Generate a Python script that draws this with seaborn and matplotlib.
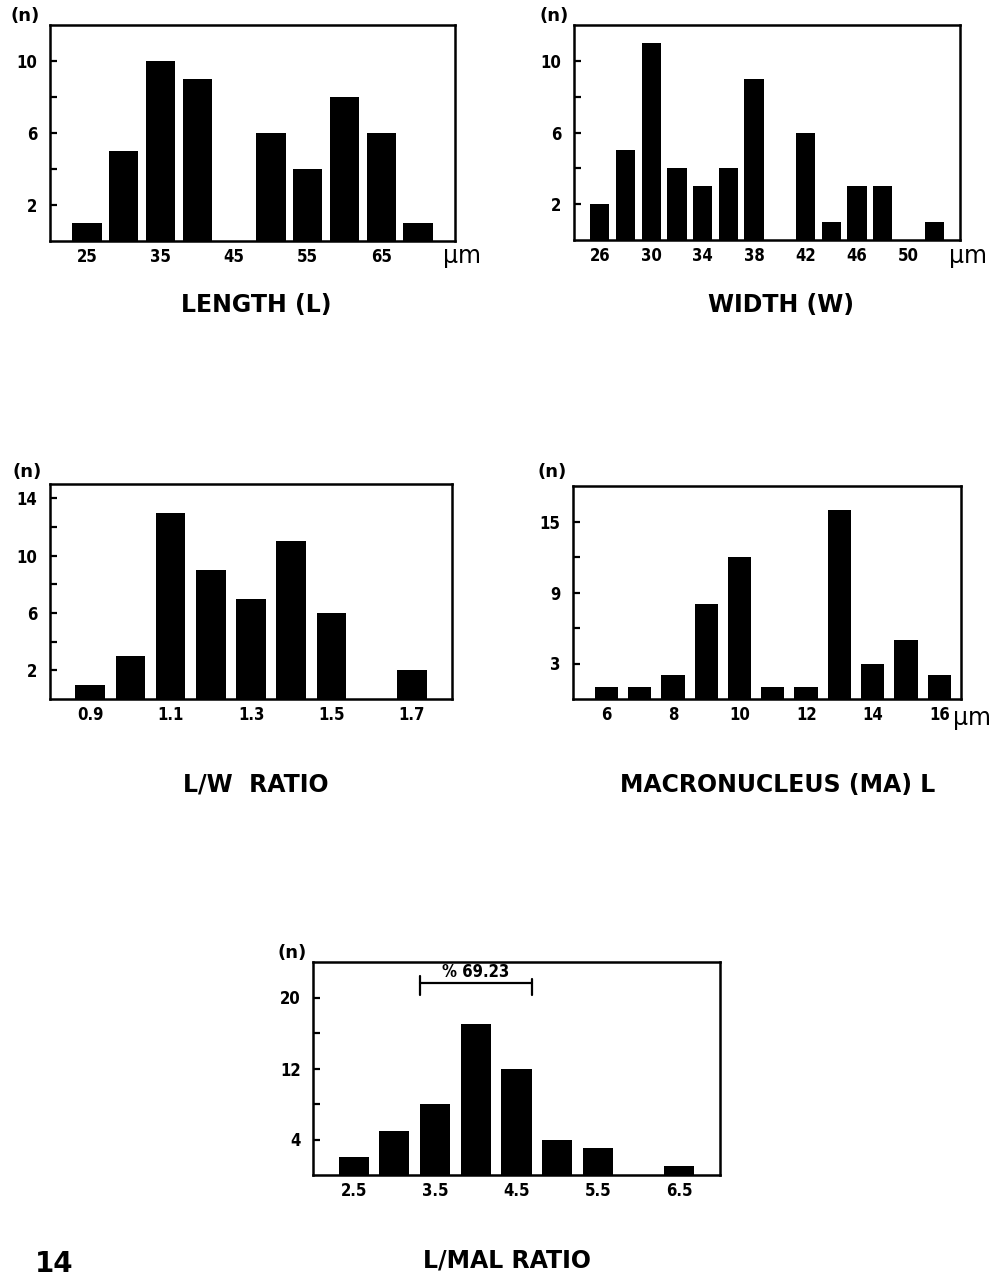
import numpy as np
import pandas as pd
import matplotlib
matplotlib.use("Agg")
import matplotlib.pyplot as plt
import seaborn as sns

# ---------------- data ----------------
length_bins = [25, 30, 35, 40, 45, 50, 55, 60, 65, 70]
length_counts = [1, 5, 10, 9, 0, 6, 4, 8, 6, 1]
length_xticks = [25, 35, 45, 55, 65]
length_yticks = [2, 6, 10]

width_bins = [26, 28, 30, 32, 34, 36, 38, 40, 42, 44, 46, 48, 50, 52]
width_counts = [2, 5, 11, 4, 3, 4, 9, 0, 6, 1, 3, 3, 0, 1]
width_xticks = [26, 30, 34, 38, 42, 46, 50]
width_yticks = [2, 6, 10]

lw_bins = [0.9, 1.0, 1.1, 1.2, 1.3, 1.4, 1.5, 1.6, 1.7]
lw_counts = [1, 3, 13, 9, 7, 11, 6, 0, 2]
lw_xticks = [0.9, 1.1, 1.3, 1.5, 1.7]
lw_yticks = [2, 6, 10, 14]

ma_bins = [6, 7, 8, 9, 10, 11, 12, 13, 14, 15, 16]
ma_counts = [1, 1, 2, 8, 12, 1, 1, 16, 3, 5, 2]
ma_xticks = [6, 8, 10, 12, 14, 16]
ma_yticks = [3, 9, 15]

lmal_bins = [2.5, 3.0, 3.5, 4.0, 4.5, 5.0, 5.5, 6.0, 6.5]
lmal_counts = [2, 5, 8, 17, 12, 4, 3, 0, 1]
lmal_xticks = [2.5, 3.5, 4.5, 5.5, 6.5]
lmal_yticks = [4, 12, 20]
lmal_bracket_bins = [3.5, 4.5]
lmal_bracket_label = "% 69.23"

titles = ["LENGTH (L)", "WIDTH (W)", "L/W  RATIO", "MACRONUCLEUS (MA) L", "L/MAL RATIO"]
figure_number = "14"

# ---------------- style ----------------
sns.set_theme(style="white")
plt.rcParams["font.family"] = ["DejaVu Sans"]
TICK_FAMILY = ["DejaVu Sans"]
TICK_STRETCH = "condensed"
TICK_SIZE = 12

W, H = 996, 1278
fig = plt.figure(figsize=(W / 100, H / 100), dpi=100)
fig.patch.set_facecolor("white")


def px_axes(left, top, right, bottom):
    return fig.add_axes([left / W, 1 - bottom / H, (right - left) / W, (bottom - top) / H])


def ftext(x, y, s, **kw):
    fig.text(x / W, 1 - y / H, s, ha="center", va="center", **kw)


def fmt(v):
    return f"{v:g}"


panels = [
    dict(box=(50, 25, 455, 241), bins=length_bins, counts=length_counts, width=0.8,
         xlim=(20, 75), ylim=(0, 12), xt=length_xticks, yt=length_yticks),
    dict(box=(574, 25, 960, 240), bins=width_bins, counts=width_counts, width=0.75,
         xlim=(24, 54), ylim=(0, 12), xt=width_xticks, yt=width_yticks),
    dict(box=(50, 484, 452, 699), bins=lw_bins, counts=lw_counts, width=0.74,
         xlim=(0.8, 1.8), ylim=(0, 15), xt=lw_xticks, yt=lw_yticks),
    dict(box=(573, 486, 961, 699), bins=ma_bins, counts=ma_counts, width=0.7,
         xlim=(5.0, 16.65), ylim=(0, 18), xt=ma_xticks, yt=ma_yticks),
    dict(box=(313, 962, 720, 1175), bins=lmal_bins, counts=lmal_counts, width=0.74,
         xlim=(2.0, 7.0), ylim=(0, 24), xt=lmal_xticks, yt=lmal_yticks),
]

axes = []
for p in panels:
    ax = px_axes(*p["box"])
    df = pd.DataFrame({"x": p["bins"], "n": p["counts"]})
    sns.barplot(data=df, x="x", y="n", native_scale=True, color="black", saturation=1,
                width=p["width"], errorbar=None, linewidth=0, ax=ax)
    ax.set_xlim(*p["xlim"])
    ax.set_ylim(*p["ylim"])
    ax.set_xlabel("")
    ax.set_ylabel("")
    ax.set_xticks(p["xt"], labels=[fmt(v) for v in p["xt"]])
    ax.set_yticks(p["yt"], labels=[fmt(v) for v in p["yt"]])
    minors = [(a + b) / 2 for a, b in zip(p["yt"][:-1], p["yt"][1:])]
    ax.set_yticks(minors, minor=True)
    for lab in ax.get_xticklabels() + ax.get_yticklabels():
        lab.set_fontfamily(TICK_FAMILY)
        lab.set_fontstretch(TICK_STRETCH)
        lab.set_fontweight("bold")
        lab.set_fontsize(TICK_SIZE)
        lab.set_color("black")
    ax.tick_params(axis="y", which="both", direction="in", length=5, width=1.6,
                   color="black", pad=9, left=True)
    ax.tick_params(axis="x", which="both", length=0, pad=5)
    for sp in ax.spines.values():
        sp.set_visible(True)
        sp.set_color("black")
        sp.set_linewidth(1.8)
    ax.set_facecolor("white")
    ax.grid(False)
    axes.append(ax)

# bracket on the last panel
ax5 = axes[-1]
half = panels[-1]["width"] * 0.5 / 2
bx0 = lmal_bracket_bins[0] - half
bx1 = lmal_bracket_bins[1] + half
by = 21.6
ax5.plot([bx0, bx1], [by, by], color="black", lw=1.6)
ax5.plot([bx0, bx0], [by - 1.3, by + 0.8], color="black", lw=1.6)
ax5.plot([bx1, bx1], [by - 1.3, by + 0.5], color="black", lw=1.6)
ax5.text((bx0 + bx1) / 2, by + 0.3, lmal_bracket_label, ha="center", va="bottom",
         fontfamily=TICK_FAMILY, fontstretch=TICK_STRETCH, fontweight="bold",
         fontsize=12, color="black")

# (n) labels
for x, y in [(25, 16), (554, 16), (27, 472), (552, 472), (292, 953)]:
    ftext(x, y, "(n)", fontsize=13, fontweight="bold", color="black")

# unit labels
for x, y in [(462, 256), (968, 256), (972, 718)]:
    ftext(x, y, "µm", fontsize=17, color="black")

# titles
for (x, y), t in zip([(256, 305), (781, 305), (256, 785), (778, 785), (507, 1261)], titles):
    ftext(x, y, t, fontsize=17, fontweight="bold", color="black")

ftext(54, 1264, figure_number, fontsize=20, fontweight="bold", color="black")

fig.savefig("out.png", dpi=100, facecolor="white")
